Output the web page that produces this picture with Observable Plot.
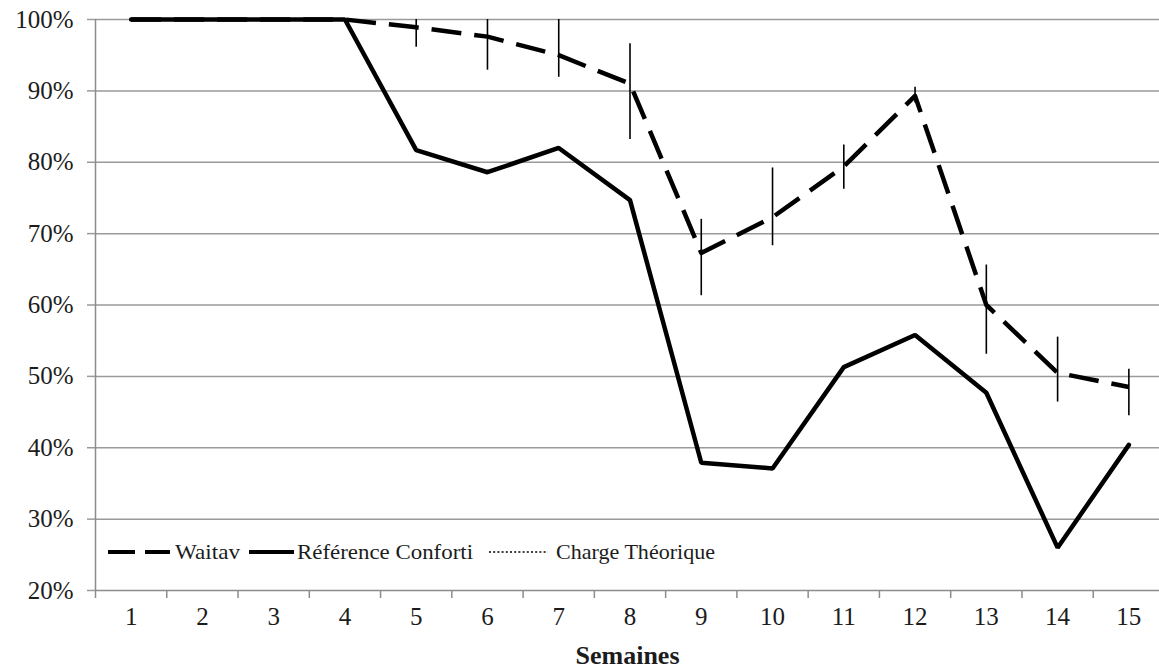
<!DOCTYPE html>
<html>
<head>
<meta charset="utf-8">
<script src="https://cdn.jsdelivr.net/npm/d3@7"></script>
<script src="https://cdn.jsdelivr.net/npm/@observablehq/plot@0.6"></script>
<style>
  html, body { margin: 0; padding: 0; background: #fff; }
  #wrap { position: relative; width: 1159px; height: 672px; overflow: hidden; }
  #legend { position: absolute; left: 0; top: 0; pointer-events: none; }
  #wrap svg, #wrap svg text { font-family: "Liberation Serif", "Times New Roman", Tinos, "DejaVu Serif", serif !important; }
</style>
</head>
<body>
<div id="wrap"></div>
<script>
// ---- data ----
const weeks = [1, 2, 3, 4, 5, 6, 7, 8, 9, 10, 11, 12, 13, 14, 15];
const waitav = [100, 100, 100, 100, 98.9, 97.6, 95.0, 91.0, 67.3, 72.3, 79.4, 89.3, 60.0, 50.5, 48.5];
const conforti = [100, 100, 100, 100, 81.7, 78.6, 82.0, 74.7, 37.9, 37.1, 51.3, 55.8, 47.7, 26.0, 40.4];
const errLow = [null, null, null, null, 96.1, 92.9, 91.9, 83.2, 61.3, 68.3, 76.2, 88.3, 53.1, 46.4, 44.5];
const errHigh = [null, null, null, null, 100, 100, 100, 96.6, 72.0, 79.2, 82.4, 90.5, 65.6, 55.5, 51.0];
const yTicks = [20, 30, 40, 50, 60, 70, 80, 90, 100];
const xLabel = "Semaines";
const seriesNames = ["Waitav", "Référence Conforti", "Charge Théorique"];

const rowsW = weeks.map((w, i) => ({week: w, value: waitav[i]}));
const rowsC = weeks.map((w, i) => ({week: w, value: conforti[i]}));
const rowsE = weeks.map((w, i) => ({week: w, lo: errLow[i], hi: errHigh[i]})).filter(d => d.lo != null);
const boundaries = d3.range(0.5, weeks.length + 1, 1);

const serif = "Liberation Serif";
const textColor = "#1c1c1c";

const chart = Plot.plot({
  width: 1159,
  height: 672,
  marginTop: 19,
  marginBottom: 82,
  marginLeft: 95,
  marginRight: 0,
  style: {fontSize: "25px", color: textColor, background: "#fff", overflow: "hidden"},
  x: {type: "linear", domain: [0.5, 15.5], range: [95, 1164]},
  y: {domain: [20, 100], range: [590, 19]},
  marks: [
    Plot.ruleY(yTicks.filter(t => t > 20), {y: d => d, stroke: "#9a9a9a", strokeWidth: 1.5}),
    Plot.axisY({ticks: yTicks, tickFormat: d => d + "%", tickSize: 8, tickPadding: 14, stroke: "#9a9a9a", strokeWidth: 1.5, label: null, fill: textColor, fontFamily: serif}),
    Plot.ruleX([0.5], {x: d => d, stroke: "#8c8c8c", strokeWidth: 1.5}),
    Plot.ruleY([20], {y: d => d, stroke: "#8c8c8c", strokeWidth: 1.5}),
    Plot.axisX({ticks: boundaries, tickFormat: () => "", tickSize: 8, stroke: "#8c8c8c", strokeWidth: 1.5, label: null}),
    Plot.axisX({ticks: weeks, tickFormat: d => String(d), tickSize: 0, tickPadding: 17, label: xLabel, labelAnchor: "center", labelArrow: "none", labelOffset: 73, fill: textColor, fontFamily: serif}),
    Plot.ruleX(rowsE, {x: "week", y1: "lo", y2: "hi", stroke: "#000", strokeWidth: 1.6}),
    Plot.line(rowsC, {x: "week", y: "value", stroke: "#000", strokeWidth: 4.5, strokeLinejoin: "miter"}),
    Plot.line(rowsW, {x: "week", y: "value", stroke: "#000", strokeWidth: 4.5, strokeDasharray: "30,13", strokeLinecap: "butt"})
  ]
});

const wrap = document.getElementById("wrap");
wrap.appendChild(chart);

// bold axis title
d3.select(chart).selectAll("text").filter(function() { return this.textContent === xLabel; })
  .attr("font-weight", "bold").attr("font-size", "26px");

// ---- legend (inside the plot area) ----
const leg = d3.select(wrap).append("svg").attr("id", "legend").attr("width", 1159).attr("height", 672);
const ly = 552;
const items = [
  {name: seriesNames[0], x1: 108, x2: 170, dash: "27,10", tx: 175, tw: 65},
  {name: seriesNames[1], x1: 249, x2: 294, dash: null, tx: 297, tw: 176},
  {name: seriesNames[2], x1: 489, x2: 548, dash: "2,2.2", tx: 556, tw: 159}
];
items.forEach(it => {
  leg.append("line").attr("x1", it.x1).attr("x2", it.x2).attr("y1", ly).attr("y2", ly)
    .attr("stroke", "#000").attr("stroke-width", it.dash === "2,2.2" ? 1.6 : 4)
    .attr("stroke-dasharray", it.dash);
  leg.append("text").attr("x", it.tx).attr("y", ly).attr("dy", "0.35em")
    .attr("font-size", "21px").attr("fill", textColor)
    .attr("textLength", it.tw).attr("lengthAdjust", "spacingAndGlyphs")
    .text(it.name);
});
</script>
</body>
</html>
